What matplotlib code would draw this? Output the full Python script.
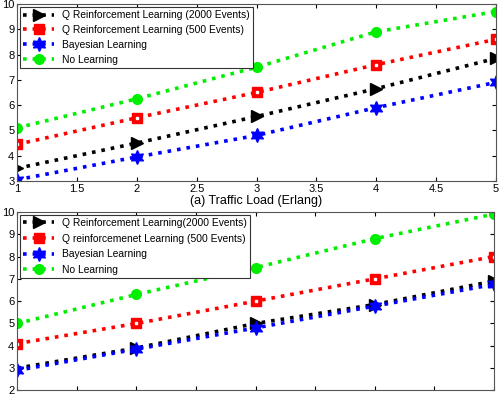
import numpy as np
import matplotlib
matplotlib.use('Agg')
import matplotlib.pyplot as plt

plt.rcParams['font.family'] = ['Liberation Sans', 'DejaVu Sans']
plt.rcParams['font.size'] = 8

x = [1, 2, 3, 4, 5]

# top panel
q2000_a = [3.5, 4.5, 5.55, 6.65, 7.85]
q500_a = [4.45, 5.5, 6.5, 7.6, 8.6]
bayes_a = [3.05, 3.95, 4.8, 5.9, 6.9]
nolearn_a = [5.1, 6.25, 7.5, 8.9, 9.7]
labels_a = ['Q Reinforcement Learning (2000 Events)',
            'Q Reinforcement Learning (500 Events)',
            'Bayesian Learning', 'No Learning']

# bottom panel
q2000_b = [3.0, 3.9, 5.0, 5.85, 6.9]
q500_b = [4.1, 5.0, 6.0, 7.0, 8.0]
bayes_b = [2.9, 3.85, 4.8, 5.78, 6.75]
nolearn_b = [5.0, 6.3, 7.5, 8.8, 9.9]
labels_b = ['Q Reinforcement Learning(2000 Events)',
            'Q reinforcemenet Learning (500 Events)',
            'Bayesian Learning', 'No Learning']

styles = [
    dict(color='black', marker='>', mfc='black', mec='black', ms=9),
    dict(color='red', marker='s', mfc='red', mec='red', ms=7),
    dict(color='blue', marker=(6, 1, 0), mfc='blue', mec='blue', ms=10),
    dict(color='#00ee00', marker='o', mfc='#00ee00', mec='#00ee00', ms=7),
]

fig = plt.figure(figsize=(5.03, 3.96), dpi=100)
ax1 = fig.add_axes([0.034, 0.543, 0.952, 0.447])
ax2 = fig.add_axes([0.034, 0.014, 0.948, 0.451])


def draw(ax, series, labels, ylo, spacing):
    handles = []
    for ys, lab, st in zip(series, labels, styles):
        h, = ax.plot(x, ys, linestyle=':', lw=2.6, label=lab, **st)
        handles.append(h)
    # small white centre of the red squares
    ax.plot(x, series[1], linestyle='none', marker='s', ms=2,
            mfc='white', mec='white')
    ax.set_xlim(1, 5)
    ax.set_ylim(ylo, 10)
    ax.set_yticks(range(ylo, 11))
    ax.set_xticks(np.arange(1, 5.01, 0.5))
    ax.tick_params(direction='in', top=True, right=True, length=3,
                   labelsize=8, pad=2)
    for s in ax.spines.values():
        s.set_color('#555555')
        s.set_linewidth(0.8)
    leg = ax.legend(handles=handles, loc='upper left', fancybox=False,
                    edgecolor='#333333', fontsize=7.4, handlelength=3,
                    borderpad=0.3, labelspacing=spacing,
                    handletextpad=0.8, borderaxespad=0.3, framealpha=1)
    leg.get_frame().set_linewidth(0.8)


draw(ax1, [q2000_a, q500_a, bayes_a, nolearn_a], labels_a, 3, 0.48)
ax1.set_xticklabels(['1', '1.5', '2', '2.5', '3', '3.5', '4', '4.5', '5'])
ax1.set_xlabel('(a) Traffic Load (Erlang)', fontsize=9, labelpad=1)

draw(ax2, [q2000_b, q500_b, bayes_b, nolearn_b], labels_b, 2, 0.55)
ax2.set_xticklabels([])

fig.savefig('out.png', dpi=100)
